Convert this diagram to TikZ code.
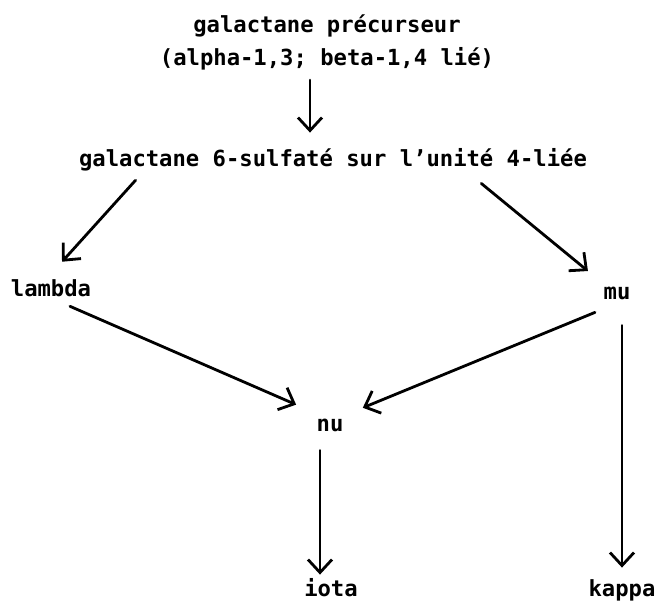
\documentclass[tikz,border=0pt]{standalone}
\usepackage{fontspec}
\newfontfamily\dotfont{DejaVu Sans Mono}
\usetikzlibrary{arrows.meta}

\begin{document}
\begin{tikzpicture}[x=0.5pt,y=-0.5pt,line cap=round,line join=round,
  every node/.style={font=\dotfont\bfseries\fontsize{11.1}{16.5}\selectfont,inner sep=0pt},
  lbl/.style={text height=8pt,text depth=2.5pt},
  arr/.style={line width=1.4pt,-{Straight Barb[length=6.5pt,width=12pt]}}]
  \useasboundingbox (0,0) rectangle (660,604);
  \node[align=center] (prec) at (327,42) {galactane précurseur\\(alpha-1,3; beta-1,4 lié)};
  \node[lbl] (sulf) at (333,161.5) {galactane 6-sulfaté sur l’unité 4-liée};
  \node[lbl] (lambda) at (51,291.5) {lambda};
  \node[lbl] (mu) at (617,294.5) {mu};
  \node[lbl] (nu) at (330,426.5) {nu};
  \node[lbl] (iota) at (331,591.5) {iota};
  \node[lbl] (kappa) at (622,591.5) {kappa};
  \draw[arr,shorten <=5pt,shorten >=9pt] ([xshift=-8.5pt]prec.south) -- ([xshift=-8.5pt]prec.south |- sulf.north);
  \draw[arr,shorten <=5.3pt,shorten >=12.7pt] ([xshift=32pt]sulf.south west) -- ([xshift=-3pt]lambda.north);
  \draw[arr,shorten <=8.7pt,shorten >=9.9pt] ([xshift=-59.75pt]sulf.south east) -- (mu.north west);
  \draw[arr,shorten <=4.9pt,shorten >=13.7pt] ([xshift=5pt]lambda.south) -- ([xshift=2.5pt]nu.north west);
  \draw[arr,shorten <=9.2pt,shorten >=10.3pt] ([xshift=-2.5pt]mu.south) -- (nu.north east);
  \draw[arr,shorten <=10pt,shorten >=6.5pt] (mu.south -| kappa.north) -- (kappa.north);
  \draw[arr,shorten <=6.5pt,shorten >=3pt] ([xshift=-5pt]nu.south) -- ([xshift=-5pt]nu.south |- iota.north);
\end{tikzpicture}
\end{document}
